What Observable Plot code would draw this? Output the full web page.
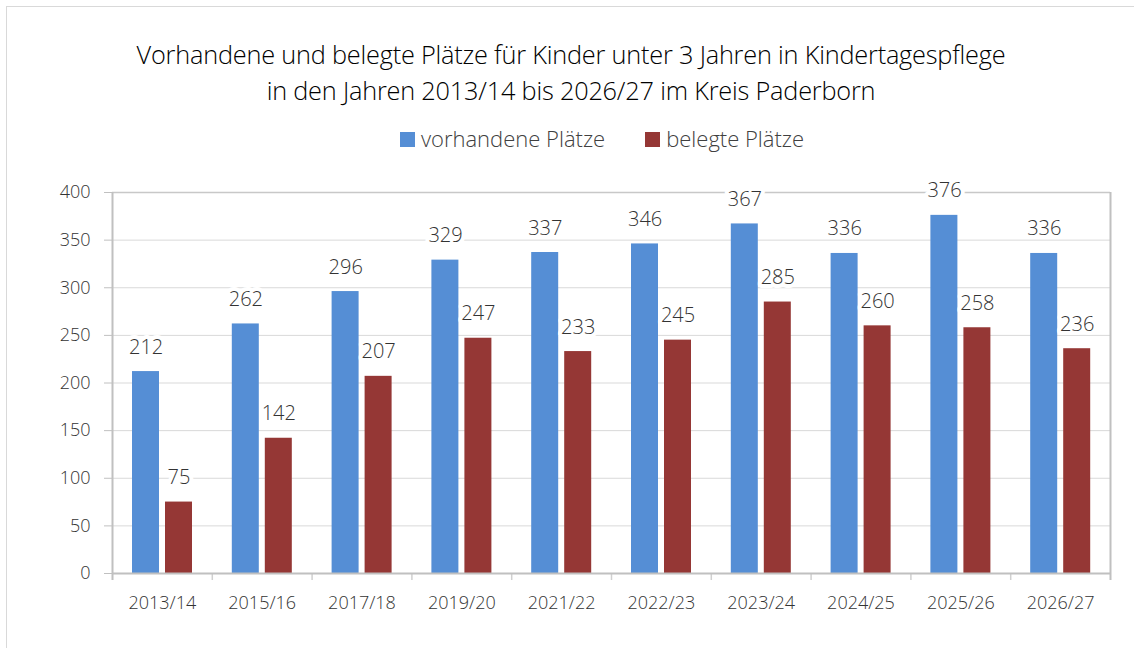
<!DOCTYPE html>
<html>
<head>
<meta charset="utf-8">
<script src="https://cdn.jsdelivr.net/npm/d3@7"></script>
<script src="https://cdn.jsdelivr.net/npm/@observablehq/plot@0.6"></script>
<style>
  html, body { margin: 0; padding: 0; width: 1134px; height: 648px; overflow: hidden; background: #fff; }
  body { position: relative; font-family: "Open Sans", "Noto Sans", sans-serif; }
  #frame { position: absolute; left: 6px; top: 6px; width: 1160px; height: 680px; border: 1px solid #d9d9d9; box-sizing: border-box; }
  #title { position: absolute; left: 0; top: 36px; width: 1142px; text-align: center; font-size: 25.3px; line-height: 36px; color: #000; letter-spacing: -0.2px; font-weight: 350; }
  #legend { position: absolute; left: 0; top: 123px; width: 1204px; text-align: center; font-size: 22px; color: #404040; font-weight: 300; }
  #legend span.item { display: inline-block; margin: 0 20px; }
  #legend span.sw { display: inline-block; width: 15px; height: 15px; margin-right: 6px; vertical-align: 0px; }
  #chart { position: absolute; left: 0; top: 170px; }
</style>
</head>
<body>
<div id="frame"></div>
<div id="title">Vorhandene und belegte Plätze für Kinder unter 3 Jahren in Kindertagespflege<br>in den Jahren 2013/14 bis 2026/27 im Kreis Paderborn</div>
<div id="legend"></div>
<div id="chart"></div>
<script>
const years = ["2013/14", "2015/16", "2017/18", "2019/20", "2021/22", "2022/23", "2023/24", "2024/25", "2025/26", "2026/27"];
const vorhandene = [212, 262, 296, 329, 337, 346, 367, 336, 376, 336];
const belegte = [75, 142, 207, 247, 233, 245, 285, 260, 258, 236];
const seriesNames = ["vorhandene Plätze", "belegte Plätze"];
const seriesColors = ["#558ED5", "#953735"];
const yTicks = [0, 50, 100, 150, 200, 250, 300, 350, 400];

const rowsV = years.map((y, i) => ({year: y, value: vorhandene[i], series: seriesNames[0]}));
const rowsB = years.map((y, i) => ({year: y, value: belegte[i], series: seriesNames[1]}));

// legend
const legend = document.getElementById("legend");
seriesNames.forEach((n, i) => {
  const s = document.createElement("span");
  s.className = "item";
  s.innerHTML = `<span class="sw" style="background:${seriesColors[i]}"></span>${n}`;
  legend.appendChild(s);
});

const bw = 99.8;
const tickLen = 7.35; // in data units below zero
const labelFont = {fontSize: 20, fill: "#333333", fontWeight: 300};
const halo = {stroke: "white", strokeWidth: 8, strokeLinejoin: "round", paintOrder: "stroke"};

const chart = Plot.plot({
  width: 1134,
  height: 440,
  marginLeft: 112,
  marginRight: 24,
  marginTop: 22,
  marginBottom: 37,
  style: {fontFamily: "'Open Sans', 'Noto Sans', sans-serif", background: "transparent", overflow: "visible"},
  x: {domain: years, padding: 0, round: false, label: null},
  y: {domain: [0, 400], label: null},
  marks: [
    Plot.ruleY(yTicks.slice(1, -1), {stroke: "#d9d9d9", strokeWidth: 1}),
    Plot.ruleY([400], {stroke: "#c8c8c8", strokeWidth: 1.5}),
    Plot.barY(rowsV, {x: "year", y: "value", fill: seriesColors[0], insetLeft: 20, insetRight: 52.8}),
    Plot.barY(rowsB, {x: "year", y: "value", fill: seriesColors[1], insetLeft: 53, insetRight: 19.8}),
    Plot.text(rowsV, {x: "year", y: "value", text: d => String(d.value), dx: -16.3, dy: -18, lineAnchor: "bottom", ...labelFont, ...halo}),
    Plot.text(rowsB, {x: "year", y: "value", text: d => String(d.value), dx: 16.6, dy: -18, lineAnchor: "bottom", ...labelFont, ...halo}),
    Plot.ruleX([years[0]], {x: d => d, dx: -bw / 2, y1: -tickLen, y2: 400, stroke: "#c0c0c0", strokeWidth: 2, clip: false}),
    Plot.ruleX(years.slice(1), {x: d => d, dx: -bw / 2, y1: -tickLen, y2: 0, stroke: "#d0d0d0", strokeWidth: 1.5, clip: false}),
    Plot.ruleX([years[years.length - 1]], {x: d => d, dx: bw / 2, y1: -tickLen, y2: 400, stroke: "#c0c0c0", strokeWidth: 2, clip: false}),
    Plot.ruleY([0], {stroke: "#c0c0c0", strokeWidth: 2}),
    Plot.axisY({ticks: yTicks, tickSize: 8, tickPadding: 14, stroke: "#c0c0c0", fontSize: 18, fill: "#333333", fontWeight: 300, label: null}),
    Plot.axisX({tickSize: 0, tickPadding: 23, fontSize: 18, fill: "#333333", fontWeight: 300, label: null})
  ]
});
document.getElementById("chart").appendChild(chart);
</script>
</body>
</html>
